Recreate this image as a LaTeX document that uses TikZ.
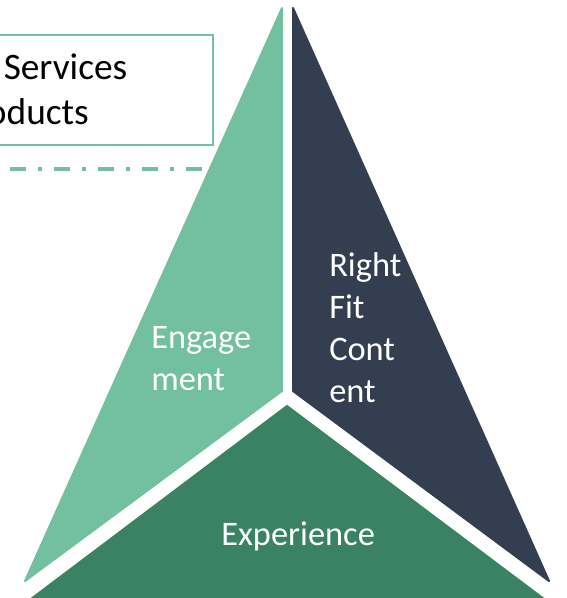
\documentclass[tikz,border=0pt]{standalone}
\usepackage{fontspec}
\setmainfont{Carlito}
\definecolor{lightgreen}{HTML}{72C0A0}
\definecolor{slate}{HTML}{333F50}
\definecolor{deepgreen}{HTML}{3A8264}
\tikzset{
  part/.style={line width=1.5pt, line join=round},
  lbl/.style={anchor=base west, inner sep=0pt, text=white, align=left,
    font=\fontsize{25.8}{31.3}\selectfont},
  boxtext/.style={anchor=base west, inner sep=0pt, font=\fontsize{28}{34}\selectfont}
}
\begin{document}
\begin{tikzpicture}[x=0.75pt,y=-0.75pt]
  \useasboundingbox (0,0) rectangle (566,598);
  \clip (0,0) rectangle (566,598);
  % the three parts of the triangle
  \filldraw[part, fill=lightgreen, draw=lightgreen] (282,8) -- (282,391) -- (25,581) -- cycle;
  \filldraw[part, fill=slate, draw=slate] (293,8) -- (293,391) -- (549,581) -- cycle;
  \filldraw[part, fill=deepgreen, draw=deepgreen] (287,406) -- (27,602) -- (548,602) -- cycle;
  % labels (base = last line)
  \node (engage) [lbl] at (151,390) {Engage\\ment};
  \node (fit) [lbl] at (329,402) {Right\\Fit\\Cont\\ent};
  \node (exper) [lbl] at (221,545) {Experience};
  % box at top left
  \draw[lightgreen, line width=1.1pt] (-40,35) rectangle (213,145);
  \node (svc) [boxtext] at (3.5,80) {Services};
  \node (prod) [boxtext] at (-45,125) {Products};
  \coordinate (dl) at (10,169);
  \coordinate (dr) at (202,169);
  \draw[lightgreen, line width=3.2pt, dash pattern=on 12pt off 9pt on 3pt off 9pt] (dl) -- (dr);
\end{tikzpicture}
\end{document}
